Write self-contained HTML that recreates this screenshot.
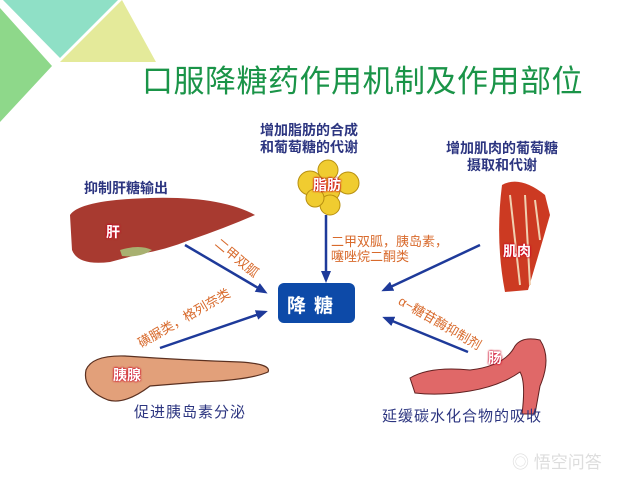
<!DOCTYPE html>
<html><head><meta charset="utf-8"><style>
body{margin:0;width:640px;height:480px;background:#fff;position:relative;overflow:hidden;font-family:"Liberation Sans","Noto Sans CJK SC",sans-serif}
.t{position:absolute;white-space:nowrap}
.lb{color:#2c3580;font-size:14px;font-weight:bold;line-height:17px;text-align:center}
.or{color:#d86a2c;font-size:13px;line-height:15px}
.c{transform:translate(-50%,-50%)}
.org{color:#fff;font-size:14px;font-weight:bold;text-shadow:0 0 2px #c02,0 0 2px #c02}
</style></head><body>
<svg width="640" height="480" style="position:absolute;left:0;top:0">
<polygon points="0,8 52,66 0,122" fill="#8ed88a"/>
<polygon points="3,0 118,0 60,58" fill="#8fe0c6"/>
<polygon points="122,0 60,62 156,62" fill="#e4ea9a"/>
<polygon points="0,0 60,60 58,62 0,4" fill="#fff"/>
<!-- liver -->
<path d="M70,215 Q80,200 150,198 Q220,196 255,215 Q225,228 190,240 Q165,250 140,254 L110,262 Q78,266 72,250 Z" fill="#a83a30"/>
<path d="M120,250 Q140,244 152,250 Q140,258 122,256 Z" fill="#a8b070"/>
<!-- fat -->
<g fill="#f0cc30" stroke="#b89010" stroke-width="1">
<circle cx="328" cy="170" r="10"/><circle cx="310" cy="183" r="12"/><circle cx="348" cy="183" r="11"/><circle cx="328" cy="190" r="12"/><circle cx="330" cy="205" r="10"/><circle cx="315" cy="198" r="9"/>
</g>
<!-- muscle -->
<path d="M502,185 Q520,175 545,195 L550,215 Q540,250 528,290 L505,292 Q495,240 502,185 Z" fill="#cc3a22"/>
<path d="M510,195 L520,285 M525,195 L530,285 M535,200 L540,240" stroke="#f0d0b0" stroke-width="2"/>
<!-- pancreas -->
<path d="M86,370 Q92,355 125,356 Q180,360 240,362 Q272,364 268,372 Q250,380 200,382 L150,386 Q125,405 108,400 Q82,390 86,370 Z" fill="#e2a07a" stroke="#5a3020" stroke-width="1.2"/>
<!-- intestine -->
<path d="M410,378 Q430,366 470,370 Q505,366 515,346 Q522,336 540,340 Q552,358 540,386 L535,414 L522,414 Q526,382 520,372 Q500,386 470,391 Q440,396 415,393 Z" fill="#e06868" stroke="#602020" stroke-width="1"/>
<!-- arrows -->
<defs><marker id="a" markerWidth="12" markerHeight="10" refX="9" refY="5" orient="auto" markerUnits="userSpaceOnUse"><path d="M0,0 L12,5 L0,10 Z" fill="#1e3a9a"/></marker></defs>
<g stroke="#1e3a9a" stroke-width="2.5" fill="none" marker-end="url(#a)">
<line x1="185" y1="245" x2="265" y2="292"/>
<line x1="160" y1="348" x2="265" y2="312"/>
<line x1="326" y1="215" x2="326" y2="280"/>
<line x1="480" y1="245" x2="384" y2="290"/>
<line x1="468" y1="352" x2="385" y2="318"/>
</g>
<rect x="278" y="283" width="77" height="40" rx="6" fill="#0d4aa8"/>
</svg>
<div class="t" style="left:142px;top:56px;font-size:31px;color:#1a9448;letter-spacing:0.5px">口服降糖药作用机制及作用部位</div>
<div class="t lb" style="left:260px;top:122px">增加脂肪的合成<br>和葡萄糖的代谢</div>
<div class="t lb" style="left:446px;top:140px">增加肌肉的葡萄糖<br>摄取和代谢</div>
<div class="t lb" style="left:84px;top:180px">抑制肝糖输出</div>
<div class="t lb" style="left:134px;top:404px;font-weight:normal;font-size:15px;letter-spacing:1px">促进胰岛素分泌</div>
<div class="t lb" style="left:382px;top:408px;font-weight:normal;font-size:15px;letter-spacing:1px">延缓碳水化合物的吸收</div>
<div class="t org" style="left:313px;top:175px">脂肪</div>
<div class="t org" style="left:106px;top:222px">肝</div>
<div class="t org" style="left:503px;top:241px">肌肉</div>
<div class="t org" style="left:113px;top:365px">胰腺</div>
<div class="t org" style="left:488px;top:348px">肠</div>
<div class="t" style="left:287px;top:291px;color:#fff;font-size:19px;font-weight:bold;letter-spacing:8px">降糖</div>
<div class="t or" style="left:331px;top:234px">二甲双胍，胰岛素，<br>噻唑烷二酮类</div>
<div class="t or c" style="left:237px;top:258px;transform:translate(-50%,-50%) rotate(40deg)">二甲双胍</div>
<div class="t or c" style="left:184px;top:318px;transform:translate(-50%,-50%) rotate(-30deg)">磺脲类，格列奈类</div>
<div class="t or c" style="left:440px;top:323px;transform:translate(-50%,-50%) rotate(30deg)">α−糖苷酶抑制剂</div>
<div class="t" style="left:512px;top:448px;color:#ddd;font-size:17px">◎ 悟空问答</div>
</body></html>
